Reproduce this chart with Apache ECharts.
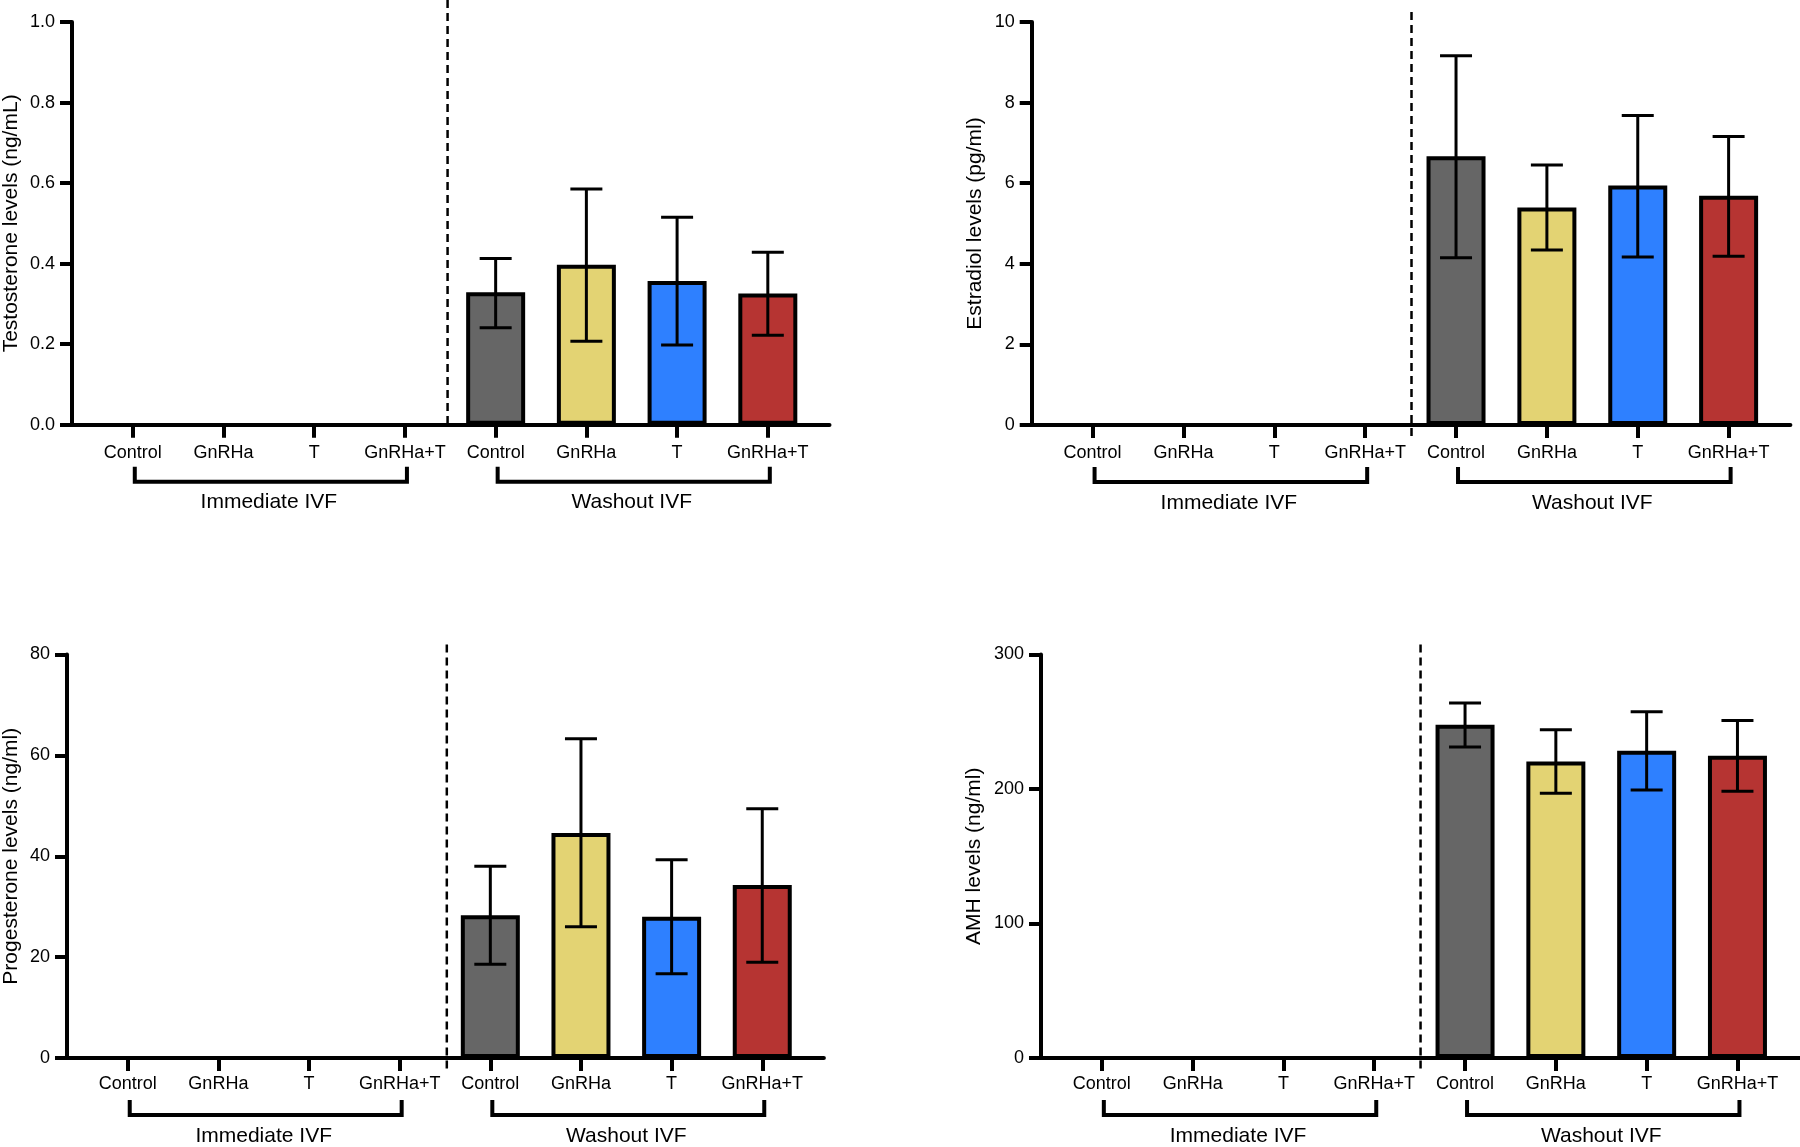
<!DOCTYPE html>
<html>
<head>
<meta charset="utf-8">
<script src="https://cdn.jsdelivr.net/npm/echarts@6/dist/echarts.min.js"></script>
<style>
html,body{margin:0;padding:0;background:#fff;}
#chart{width:1800px;height:1147px;}
</style>
</head>
<body>
<div id="chart"></div>
<script>
// ---------- data ----------
const treatments = ['Control', 'GnRHa', 'T', 'GnRHa+T'];
const xLabels = treatments.concat(treatments);
const groupNames = ['Immediate IVF', 'Washout IVF'];
const groupSpans = [[0, 3], [4, 7]];
const washoutIdx = [4, 5, 6, 7];
const barColors = ['#666666', '#E3D373', '#2E80FF', '#B63432'];

const testosteroneMean  = [0.329, 0.397, 0.357, 0.326];
const testosteroneLower = [0.241, 0.207, 0.198, 0.222];
const testosteroneUpper = [0.413, 0.585, 0.515, 0.428];

const estradiolMean  = [6.67, 5.40, 5.94, 5.69];
const estradiolLower = [4.15, 4.34, 4.17, 4.19];
const estradiolUpper = [9.16, 6.45, 7.68, 7.16];

const progesteroneMean  = [28.3, 44.6, 28.0, 34.3];
const progesteroneLower = [18.6, 26.0, 16.7, 19.0];
const progesteroneUpper = [38.0, 63.3, 39.3, 49.4];

const amhMean  = [247.8, 220.5, 228.5, 224.8];
const amhLower = [231.3, 196.8, 199.3, 198.3];
const amhUpper = [264.0, 244.0, 257.5, 251.0];

const yTitles = ['Testosterone levels (ng/mL)', 'Estradiol levels (pg/ml)', 'Progesterone levels (ng/ml)', 'AMH levels (ng/ml)'];
const yMaxes = [1.0, 10, 80, 300];
const ySteps = [0.2, 2, 20, 100];
const dividerAt = [3.47, 3.51, 3.52, 3.51];

// ---------- layout / style ----------
const FONT = '"Liberation Sans", Arial, Helvetica, sans-serif';
const X_MIN = -0.67, X_MAX = 7.68;
const layout = [
  {left: 71,     top: 22,    width: 758.5, height: 402.7, nameGap: 50, divAbove: 22, divBelow: 0,  decimals: 1, lblMargin: 19},
  {left: 1031.7, top: 22,    width: 758.7, height: 403,   nameGap: 46, divAbove: 10, divBelow: 12, decimals: 0, lblMargin: 19},
  {left: 65.7,   top: 654.5, width: 758.2, height: 403.5, nameGap: 45, divAbove: 10, divBelow: 12, decimals: 0, lblMargin: 17},
  {left: 1041,   top: 654.5, width: 758.2, height: 403.5, nameGap: 56, divAbove: 10, divBelow: 12, decimals: 0, lblMargin: 17}
];
const panelData = [
  [testosteroneMean, testosteroneLower, testosteroneUpper],
  [estradiolMean, estradiolLower, estradiolUpper],
  [progesteroneMean, progesteroneLower, progesteroneUpper],
  [amhMean, amhLower, amhUpper]
];

const grids = [], xAxes = [], yAxes = [], series = [];

layout.forEach((L, p) => {
  grids.push({left: L.left, top: L.top, width: L.width, height: L.height, containLabel: false});
  xAxes.push({
    type: 'value', gridIndex: p, min: X_MIN, max: X_MAX,
    axisLine: {show: true, onZero: false, lineStyle: {color: '#000', width: 4}},
    axisTick: {show: true, customValues: [0,1,2,3,4,5,6,7], length: 13, lineStyle: {color: '#000', width: 4}},
    axisLabel: {show: true, customValues: [0,1,2,3,4,5,6,7], margin: L.lblMargin, color: '#000', fontSize: 18, fontFamily: FONT,
      formatter: v => xLabels[Math.round(v)]},
    splitLine: {show: false}
  });
  yAxes.push({
    type: 'value', gridIndex: p, min: 0, max: yMaxes[p], interval: ySteps[p],
    name: yTitles[p], nameLocation: 'middle', nameGap: L.nameGap,
    nameTextStyle: {color: '#000', fontSize: 21, fontFamily: FONT},
    axisLine: {show: true, onZero: false, lineStyle: {color: '#000', width: 4}},
    axisTick: {show: true, length: 12, lineStyle: {color: '#000', width: 4}},
    axisLabel: {margin: 17, color: '#000', fontSize: 18, fontFamily: FONT,
      formatter: v => v.toFixed(L.decimals)},
    splitLine: {show: false}
  });

  const [mean, lower, upper] = panelData[p];
  // bars
  series.push({
    type: 'bar', xAxisIndex: p, yAxisIndex: p, barWidth: 59, z: 3,
    data: mean.map((v, i) => ({value: [washoutIdx[i], v],
      itemStyle: {color: barColors[i], borderColor: '#000', borderWidth: 4}})),
    animation: false
  });
  // error bars
  series.push({
    type: 'custom', xAxisIndex: p, yAxisIndex: p, z: 5, animation: false,
    encode: {x: 0, y: [1, 2]},
    data: mean.map((v, i) => [washoutIdx[i], lower[i], upper[i]]),
    renderItem: (params, api) => {
      const x = api.value(0);
      const lo = api.coord([x, api.value(1)]);
      const hi = api.coord([x, api.value(2)]);
      const cap = 16;
      const st = {stroke: '#000', lineWidth: 3};
      return {type: 'group', children: [
        {type: 'line', shape: {x1: lo[0], y1: lo[1], x2: hi[0], y2: hi[1]}, style: st},
        {type: 'line', shape: {x1: hi[0]-cap, y1: hi[1], x2: hi[0]+cap, y2: hi[1]}, style: st},
        {type: 'line', shape: {x1: lo[0]-cap, y1: lo[1], x2: lo[0]+cap, y2: lo[1]}, style: st}
      ]};
    }
  });
  // group brackets + labels
  series.push({
    type: 'custom', xAxisIndex: p, yAxisIndex: p, z: 5, animation: false, silent: true,
    encode: {x: [0, 1]},
    data: groupSpans.map(s => [s[0], s[1]]),
    renderItem: (params, api) => {
      const a = api.coord([api.value(0), 0]);
      const b = api.coord([api.value(1), 0]);
      const yb = a[1];
      const x0 = a[0] + 2, x1 = b[0] + 2;
      return {type: 'group', children: [
        {type: 'polyline', shape: {points: [[x0, yb + 42], [x0, yb + 57], [x1, yb + 57], [x1, yb + 42]]},
          style: {stroke: '#000', lineWidth: 4, fill: null}},
        {type: 'text', style: {text: groupNames[params.dataIndex], x: (a[0] + b[0]) / 2, y: yb + 78,
          align: 'center', verticalAlign: 'middle', fontSize: 21, fontFamily: FONT, fill: '#000'}}
      ]};
    }
  });
  // dashed divider
  series.push({
    type: 'custom', xAxisIndex: p, yAxisIndex: p, z: 4, animation: false, silent: true,
    encode: {x: 0},
    data: [[dividerAt[p]]],
    renderItem: (params, api) => {
      const b = api.coord([api.value(0), 0]);
      const t = api.coord([api.value(0), yMaxes[p]]);
      return {type: 'line', shape: {x1: b[0], y1: t[1] - L.divAbove, x2: b[0], y2: b[1] + L.divBelow},
        style: {stroke: '#000', lineWidth: 2.5, lineDash: [8, 5]}};
    }
  });
});

const chart = echarts.init(document.getElementById('chart'), null, {renderer: 'canvas'});
chart.setOption({
  backgroundColor: '#fff',
  animation: false,
  grid: grids, xAxis: xAxes, yAxis: yAxes, series: series
});
</script>
</body>
</html>
